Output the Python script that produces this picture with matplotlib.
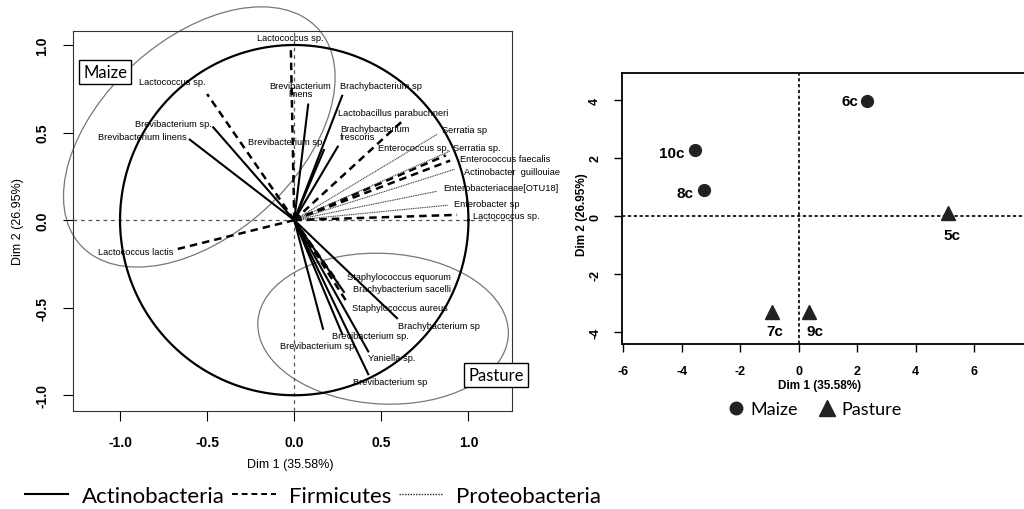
import matplotlib
matplotlib.use("Agg")
import matplotlib.pyplot as plt
from matplotlib.patches import Ellipse
from matplotlib.lines import Line2D
import numpy as np

plt.rcParams['font.family'] = ['Liberation Sans', 'DejaVu Sans']

# variables: name, phylum, coordinates on Dim 1 / Dim 2
var_names = ["Lactococcus sp.", "Lactococcus sp.", "Brevibacterium sp.", "Brevibacterium linens",
             "Brevibacterium\nlinens", "Brachybacterium sp", "Lactobacillus parabuchneri",
             "Brachybacterium\nfrescoris", "Brevibacterium sp", "Serratia sp", "Enterococcus sp.",
             "Serratia sp.", "Enterococcus faecalis", "Actinobacter  guillouiae",
             "Enterobacteriaceae[OTU18]", "Enterobacter sp", "Lactococcus sp.", "Lactococcus lactis",
             "Staphylococcus equorum", "Brachybacterium sacelli", "Staphylococcus aureus",
             "Brachybacterium sp", "Brevibacterium sp.", "Brevibacterium sp", "Yaniella sp.",
             "Brevibacterium sp"]
var_phylum = ["F", "F", "A", "A", "A", "A", "F", "A", "A", "P", "F", "P", "F", "P", "P", "P",
              "F", "F", "F", "A", "F", "A", "A", "A", "A", "A"]
var_dim1 = [-0.02, -0.50, -0.465, -0.60, 0.08, 0.275, 0.62, 0.25, 0.17, 0.82, 0.87, 0.895,
            0.895, 0.92, 0.82, 0.88, 0.935, -0.67, 0.25, 0.285, 0.31, 0.59, 0.275, 0.165,
            0.425, 0.425]
var_dim2 = [1.005, 0.72, 0.53, 0.46, 0.66, 0.71, 0.565, 0.42, 0.40, 0.49, 0.37, 0.395,
            0.34, 0.29, 0.165, 0.085, 0.03, -0.165, -0.355, -0.41, -0.48, -0.56, -0.65, -0.62,
            -0.75, -0.88]

# individuals
ind_names = ["6c", "10c", "8c", "5c", "7c", "9c"]
ind_group = ["Maize", "Maize", "Maize", "Pasture", "Pasture", "Pasture"]
ind_dim1 = [2.33, -3.56, -3.25, 5.1, -0.9, 0.35]
ind_dim2 = [3.95, 2.28, 0.9, 0.1, -3.3, -3.3]

# label placement (pixels offset from arrow tip, alignment)
lab_pos = [(0, 7, 'center'), (-2, 13, 'right'), (-1, 4, 'right'), (-3, 3, 'right'),
           (-8, 15, 'center'), (-2, 10, 'left'), (-9, 9, 'center'), (2, 14, 'left'),
           (-2, 9, 'right'), (5, 5, 'left'), (3, 8, 'right'), (3, 3, 'left'), (10, 2, 'left'),
           (9, -2, 'left'), (6, 4, 'left'), (6, 2, 'left'), (16, -1, 'left'), (-4, -2, 'right'),
           (9, 6, 'left'), (9, 3, 'left'), (4, -3, 'left'), (1, -7, 'left'), (-10, -2, 'left'),
           (-6, -17, 'center'), (0, -6, 'left'), (-15, -7, 'left')]

styles = {"A": dict(color='black', lw=1.5, ls='-'),
          "F": dict(color='black', lw=1.8, ls=(0, (3, 2))),
          "P": dict(color='#444444', lw=0.8, ls=(0, (1, 0.6)))}

fig = plt.figure(figsize=(10.24, 5.10), dpi=100)

# ---------------- left: correlation circle ----------------
ax = fig.add_axes([73 / 1024, 98 / 510, 439 / 1024, 380 / 510])
ax.set_xlim(-1.27, 1.25)
ax.set_ylim(-1.09, 1.08)

ax.axhline(0, color='#555555', ls=(0, (3, 3)), lw=0.9)
ax.axvline(0, color='#555555', ls=(0, (3, 3)), lw=0.9)

t = np.linspace(0, 2 * np.pi, 400)
ax.plot(np.cos(t), np.sin(t), color='black', lw=1.6)

ax.add_patch(Ellipse((-0.545, 0.475), 1.84, 1.12, angle=42, fill=False,
                     ec='#777777', lw=0.9, clip_on=False))
ax.add_patch(Ellipse((0.51, -0.62), 1.44, 0.86, angle=-3, fill=False,
                     ec='#777777', lw=0.9, clip_on=False))

for i in range(len(var_names)):
    ax.plot([0, var_dim1[i]], [0, var_dim2[i]], **styles[var_phylum[i]])
    dx, dy, ha = lab_pos[i]
    ax.annotate(var_names[i], (var_dim1[i], var_dim2[i]), xytext=(dx, dy),
                textcoords='offset pixels', ha=ha, va='center', fontsize=6.7,
                linespacing=0.9, annotation_clip=False)

ax.text(-1.086, 0.846, "Maize", family='Lato', fontsize=12, ha='center', va='center',
        bbox=dict(boxstyle='square,pad=0.25', fc='white', ec='black', lw=1))
ax.text(1.0, -0.886, "Pasture", family='Lato', fontsize=12, ha='left', va='center',
        clip_on=False, bbox=dict(boxstyle='square,pad=0.25', fc='white', ec='black', lw=1))

ax.set_xticks([-1.0, -0.5, 0.0, 0.5, 1.0])
ax.set_xticklabels(["-1.0", "-0.5", "0.0", "0.5", "1.0"], fontsize=10, fontweight='bold')
ax.set_yticks([-1.0, -0.5, 0.0, 0.5, 1.0])
ax.set_yticklabels(["-1.0", "-0.5", "0.0", "0.5", "1.0"], fontsize=10, fontweight='bold',
                   rotation=90, va='center')
ax.tick_params(direction='out', length=7, width=0.8, pad=10)
for s in ax.spines.values():
    s.set_linewidth(0.8)
    s.set_color('#333333')

fig.text(290 / 1024, 1 - 465 / 510, "Dim 1 (35.58%)", fontsize=9, ha='center', va='center')
fig.text(18 / 1024, 1 - 222 / 510, "Dim 2 (26.95%)", fontsize=9, ha='center', va='center',
         rotation=90)

handles = [Line2D([], [], **styles["A"]), Line2D([], [], color='black', lw=1.4, ls=(0, (3, 2))),
           Line2D([], [], color='#222222', lw=1.0, ls=(0, (1, 1)))]
fig.legend(handles, ["Actinobacteria", "Firmicutes", "Proteobacteria"], loc='center',
           bbox_to_anchor=(313 / 1024, 1 - 497 / 510), ncol=3, frameon=False,
           prop={'family': 'Lato', 'size': 16}, handlelength=1.95, handletextpad=0.6,
           columnspacing=0.35, borderpad=0)

# ---------------- right: individuals ----------------
ax2 = fig.add_axes([622 / 1024, 165 / 510, 425 / 1024, 271 / 510])
ax2.set_xlim(-6.05, 8.5)
ax2.set_ylim(-4.41, 4.93)
ax2.axhline(0, color='black', ls=(0, (2, 1.5)), lw=1.2)
ax2.axvline(0, color='black', ls=(0, (2, 1.5)), lw=1.2)

ind_lab = {"6c": (-8, 0, 'right', 'center'), "10c": (-10, -3, 'right', 'center'),
           "8c": (-10, -3, 'right', 'center'), "5c": (4, -22, 'center', 'center'),
           "7c": (2, -19, 'center', 'center'), "9c": (6, -19, 'center', 'center')}
for i in range(len(ind_names)):
    m = 'o' if ind_group[i] == "Maize" else '^'
    ms = 8.5 if m == 'o' else 10
    ax2.plot(ind_dim1[i], ind_dim2[i], marker=m, ms=ms, color='#222222', ls='none')
    dx, dy, ha, va = ind_lab[ind_names[i]]
    ax2.annotate(ind_names[i], (ind_dim1[i], ind_dim2[i]), xytext=(dx, dy),
                 textcoords='offset pixels', ha=ha, va=va, fontsize=11, fontweight='bold')

ax2.set_xticks([-6, -4, -2, 0, 2, 4, 6])
ax2.set_xticklabels(["-6", "-4", "-2", "0", "2", "4", "6"], fontsize=9, fontweight='bold')
ax2.set_yticks([-4, -2, 0, 2, 4])
ax2.set_yticklabels(["-4", "-2", "0", "2", "4"], fontsize=9, fontweight='bold',
                    rotation=90, va='center')
ax2.tick_params(direction='out', length=6, width=1.0, pad=9)
for s in ax2.spines.values():
    s.set_linewidth(1.3)

fig.text(820 / 1024, 1 - 386 / 510, "Dim 1 (35.58%)", fontsize=8.5, fontweight='bold',
         ha='center', va='center')
fig.text(582 / 1024, 1 - 215 / 510, "Dim 2 (26.95%)", fontsize=8.5, fontweight='bold',
         ha='center', va='center', rotation=90)

h2 = [Line2D([], [], marker='o', ms=9, color='#222222', ls='none'),
      Line2D([], [], marker='^', ms=11, color='#222222', ls='none')]
fig.legend(h2, ["Maize", "Pasture"], loc='center', bbox_to_anchor=(815 / 1024, 1 - 410 / 510),
           ncol=2, frameon=False, prop={'family': 'Lato', 'size': 13}, handlelength=0.8,
           handletextpad=0.4, columnspacing=1.2)

fig.savefig("out.png", dpi=100)
